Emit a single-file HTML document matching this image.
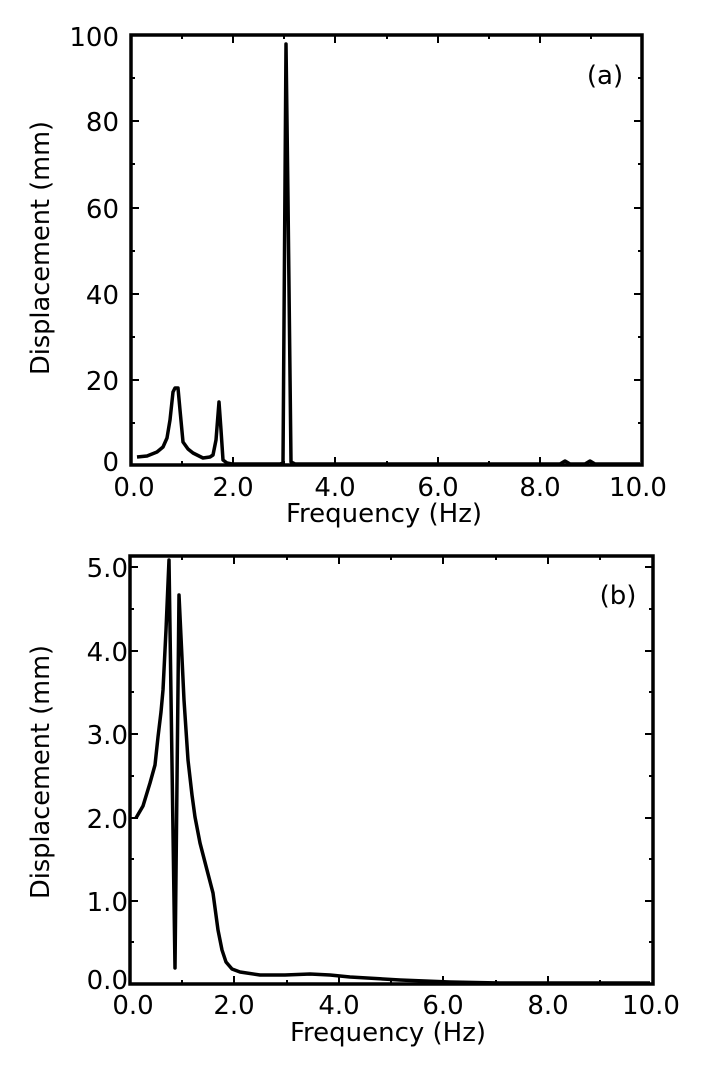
<!DOCTYPE html>
<html><head><meta charset="utf-8"><style>
html,body{margin:0;padding:0;background:#fff;}
svg{display:block;}
text{font-family:"DejaVu Sans","Liberation Sans",sans-serif;fill:#000;}
</style></head><body>
<svg width="714" height="1073" viewBox="0 0 714 1073" xmlns="http://www.w3.org/2000/svg">
<g fill="none" stroke="#000">
<rect x="131" y="35" width="511" height="430" stroke-width="3.5"/>
<g stroke-width="2">
<path d="M233,465v-8M335,465v-8M438,465v-8M540,465v-8M233,35v8M335,35v8M438,35v8M540,35v8"/>
<path d="M182,465v-4M284,465v-4M387,465v-4M489,465v-4M591,465v-4M182,35v4M284,35v4M387,35v4M489,35v4M591,35v4"/>
<path d="M131,121h8M131,208h8M131,294h8M131,380h8M642,121h-8M642,208h-8M642,294h-8M642,380h-8"/>
<path d="M131,78h4M131,164h4M131,251h4M131,337h4M131,423h4M642,78h-4M642,164h-4M642,251h-4M642,337h-4M642,423h-4"/>
</g>
<polyline stroke-width="3.5" stroke-linejoin="round" points="137,457 147,456 157,452 163,447 167,438 170,420 173,392 175,388 178,388 180,410 183,442 188,449 193,453 203,458 210,457 213,455 216,440 219,402 221,430 223,460 227,463 232,464 280,464 283,463 286,44 288,200 291,462 295,464 560,464 565,461 570,464 585,464 590,461 595,464 640,464"/>
<rect x="130" y="556" width="523" height="428" stroke-width="3.5"/>
<g stroke-width="2">
<path d="M234,984v-8M339,984v-8M443,984v-8M548,984v-8M234,556v8M339,556v8M443,556v8M548,556v8"/>
<path d="M182,984v-4M287,984v-4M391,984v-4M496,984v-4M600,984v-4M182,556v4M287,556v4M391,556v4M496,556v4M600,556v4"/>
<path d="M130,567h8M130,651h8M130,734h8M130,818h8M130,901h8M653,567h-8M653,651h-8M653,734h-8M653,818h-8M653,901h-8"/>
<path d="M130,609h4M130,692h4M130,776h4M130,859h4M130,942h4M653,609h-4M653,692h-4M653,776h-4M653,859h-4M653,942h-4"/>
</g>
<polyline stroke-width="3.5" stroke-linejoin="round" points="136,818 143,806 150,783 155,765 158,737 161,712 163,690 166,630 169,560 175,968 179,595 184,700 188,760 192,795 195,817 200,843 207,870 213,893 218,930 222,950 226,962 232,969 240,972 260,975 285,975 310,974 330,975 350,977 400,980 450,982 500,983 650,983"/>
</g>
<g font-size="26" text-anchor="end">
<text x="119" y="46">100</text>
<text x="119" y="131">80</text>
<text x="119" y="218">60</text>
<text x="119" y="304">40</text>
<text x="119" y="390">20</text>
<text x="119" y="471">0</text>
</g>
<g font-size="26" text-anchor="middle">
<text x="134" y="496">0.0</text>
<text x="233" y="496">2.0</text>
<text x="335" y="496">4.0</text>
<text x="438" y="496">6.0</text>
<text x="540" y="496">8.0</text>
<text x="638" y="496">10.0</text>
<text x="384" y="522">Frequency (Hz)</text>
<text x="605" y="84">(a)</text>
</g>
<text font-size="26" text-anchor="middle" transform="translate(49,248) rotate(-90)" textLength="254" lengthAdjust="spacingAndGlyphs">Displacement (mm)</text>
<g font-size="26" text-anchor="end">
<text x="128" y="577">5.0</text>
<text x="128" y="661">4.0</text>
<text x="128" y="744">3.0</text>
<text x="128" y="828">2.0</text>
<text x="128" y="911">1.0</text>
<text x="128" y="989">0.0</text>
</g>
<g font-size="26" text-anchor="middle">
<text x="133" y="1014">0.0</text>
<text x="234" y="1014">2.0</text>
<text x="339" y="1014">4.0</text>
<text x="443" y="1014">6.0</text>
<text x="548" y="1014">8.0</text>
<text x="651" y="1014">10.0</text>
<text x="388" y="1041">Frequency (Hz)</text>
<text x="618" y="604">(b)</text>
</g>
<text font-size="26" text-anchor="middle" transform="translate(49,772) rotate(-90)" textLength="254" lengthAdjust="spacingAndGlyphs">Displacement (mm)</text>
</svg>
</body></html>
